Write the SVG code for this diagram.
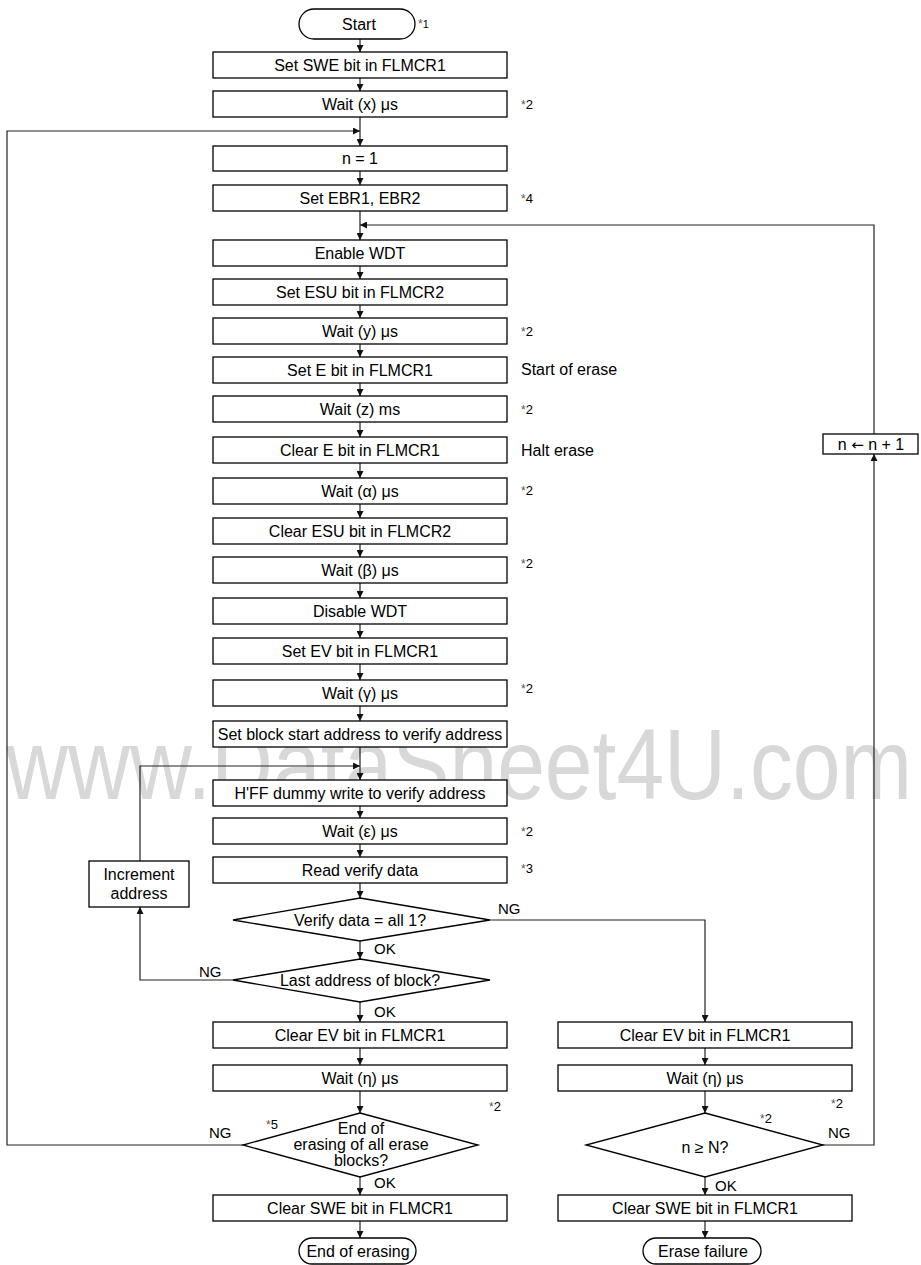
<svg xmlns="http://www.w3.org/2000/svg" width="921" height="1265" viewBox="0 0 921 1265">
<style>
.b{fill:#fff;stroke:#000;stroke-width:1.3}
.t{font-family:"Liberation Sans",Arial,sans-serif;font-size:16px;text-anchor:middle;fill:#000}
.l{font-family:"Liberation Sans",Arial,sans-serif;font-size:15px;fill:#000}
.n{font-family:"Liberation Sans",Arial,sans-serif;font-size:13px;fill:#000}
.s{font-size:12px;fill:#555}
.c{fill:none;stroke:#222;stroke-width:1.2}
.wm{font-family:"Liberation Sans",Arial,sans-serif;font-size:100px;fill:#d8d8d8}
</style>
<defs>
<marker id="ah" markerUnits="userSpaceOnUse" markerWidth="8" markerHeight="7" refX="7" refY="3.5" orient="auto">
<path d="M0,0 L7,3.5 L0,7 z" fill="#111"/>
</marker>
</defs>
<rect width="921" height="1265" fill="#fff"/>
<text class="wm" x="6" y="799" textLength="906" lengthAdjust="spacingAndGlyphs">www.DataSheet4U.com</text>

<g id="connectors">
<path class="c" marker-end="url(#ah)" d="M360,39 V52"/>
<path class="c" marker-end="url(#ah)" d="M360,78 V91"/>
<path class="c" marker-end="url(#ah)" d="M360,117 V146"/>
<path class="c" marker-end="url(#ah)" d="M360,171 V185"/>
<path class="c" marker-end="url(#ah)" d="M360,211 V240"/>
<path class="c" marker-end="url(#ah)" d="M360,266 V279"/>
<path class="c" marker-end="url(#ah)" d="M360,305 V318"/>
<path class="c" marker-end="url(#ah)" d="M360,344 V357"/>
<path class="c" marker-end="url(#ah)" d="M360,383 V396"/>
<path class="c" marker-end="url(#ah)" d="M360,422 V437"/>
<path class="c" marker-end="url(#ah)" d="M360,463 V478"/>
<path class="c" marker-end="url(#ah)" d="M360,504 V518"/>
<path class="c" marker-end="url(#ah)" d="M360,544 V557"/>
<path class="c" marker-end="url(#ah)" d="M360,583 V598"/>
<path class="c" marker-end="url(#ah)" d="M360,624 V638"/>
<path class="c" marker-end="url(#ah)" d="M360,664 V680"/>
<path class="c" marker-end="url(#ah)" d="M360,706 V721"/>
<path class="c" marker-end="url(#ah)" d="M360,747 V780"/>
<path class="c" marker-end="url(#ah)" d="M360,806 V818"/>
<path class="c" marker-end="url(#ah)" d="M360,844 V857"/>
<path class="c" marker-end="url(#ah)" d="M360,883 V898"/>
<path class="c" marker-end="url(#ah)" d="M360,941 V959"/>
<path class="c" marker-end="url(#ah)" d="M360,1002 V1022"/>
<path class="c" marker-end="url(#ah)" d="M360,1048 V1065"/>
<path class="c" marker-end="url(#ah)" d="M360,1091 V1113"/>
<path class="c" marker-end="url(#ah)" d="M360,1177 V1195"/>
<path class="c" marker-end="url(#ah)" d="M360,1221 V1238"/>
<path class="c" marker-end="url(#ah)" d="M490,920 H705 V1022"/>
<path class="c" marker-end="url(#ah)" d="M705,1048 V1065"/>
<path class="c" marker-end="url(#ah)" d="M705,1091 V1113"/>
<path class="c" marker-end="url(#ah)" d="M705,1177 V1195"/>
<path class="c" marker-end="url(#ah)" d="M705,1221 V1238"/>
<path class="c" marker-end="url(#ah)" d="M233,980 H140 V907"/>
<path class="c" marker-end="url(#ah)" d="M140,861 V766 H360"/>
<path class="c" marker-end="url(#ah)" d="M243,1145 H7 V131 H360"/>
<path class="c" marker-end="url(#ah)" d="M823,1145 H874 V454"/>
<path class="c" marker-end="url(#ah)" d="M874,434 V225 H360"/>
</g>

<g id="start"><rect class="b" x="299" y="9" width="116" height="30" rx="15"/><text class="t" x="359" y="30">Start</text></g>
<text class="n" x="418" y="28" style="font-size:11px"><tspan class="s">*</tspan>1</text>

<g id="set-swe"><rect class="b" x="213" y="52" width="294" height="26"/><text class="t" x="360" y="71">Set SWE bit in FLMCR1</text></g>
<g id="wait-x"><rect class="b" x="213" y="91" width="294" height="26"/><text class="t" x="360" y="110">Wait (x) μs</text></g>
<text class="n" x="521" y="109"><tspan class="s">*</tspan>2</text>
<g id="n-1"><rect class="b" x="213" y="146" width="294" height="25"/><text class="t" x="360" y="164">n = 1</text></g>
<g id="set-ebr"><rect class="b" x="213" y="185" width="294" height="26"/><text class="t" x="360" y="204">Set EBR1, EBR2</text></g>
<text class="n" x="521" y="203"><tspan class="s">*</tspan>4</text>
<g id="enable-wdt"><rect class="b" x="213" y="240" width="294" height="26"/><text class="t" x="360" y="259">Enable WDT</text></g>
<g id="set-esu"><rect class="b" x="213" y="279" width="294" height="26"/><text class="t" x="360" y="298">Set ESU bit in FLMCR2</text></g>
<g id="wait-y"><rect class="b" x="213" y="318" width="294" height="26"/><text class="t" x="360" y="337">Wait (y) μs</text></g>
<text class="n" x="521" y="336"><tspan class="s">*</tspan>2</text>
<g id="set-e"><rect class="b" x="213" y="357" width="294" height="26"/><text class="t" x="360" y="376">Set E bit in FLMCR1</text></g>
<text class="t" x="521" y="375" style="text-anchor:start">Start of erase</text>
<g id="wait-z"><rect class="b" x="213" y="396" width="294" height="26"/><text class="t" x="360" y="415">Wait (z) ms</text></g>
<text class="n" x="521" y="414"><tspan class="s">*</tspan>2</text>
<g id="clear-e"><rect class="b" x="213" y="437" width="294" height="26"/><text class="t" x="360" y="456">Clear E bit in FLMCR1</text></g>
<text class="t" x="521" y="456" style="text-anchor:start">Halt erase</text>
<g id="wait-alpha"><rect class="b" x="213" y="478" width="294" height="26"/><text class="t" x="360" y="497">Wait (α) μs</text></g>
<text class="n" x="521" y="495"><tspan class="s">*</tspan>2</text>
<g id="clear-esu"><rect class="b" x="213" y="518" width="294" height="26"/><text class="t" x="360" y="537">Clear ESU bit in FLMCR2</text></g>
<g id="wait-beta"><rect class="b" x="213" y="557" width="294" height="26"/><text class="t" x="360" y="576">Wait (β) μs</text></g>
<text class="n" x="521" y="568"><tspan class="s">*</tspan>2</text>
<g id="disable-wdt"><rect class="b" x="213" y="598" width="294" height="26"/><text class="t" x="360" y="617">Disable WDT</text></g>
<g id="set-ev"><rect class="b" x="213" y="638" width="294" height="26"/><text class="t" x="360" y="657">Set EV bit in FLMCR1</text></g>
<g id="wait-gamma"><rect class="b" x="213" y="680" width="294" height="26"/><text class="t" x="360" y="699">Wait (γ) μs</text></g>
<text class="n" x="521" y="693"><tspan class="s">*</tspan>2</text>
<g id="set-block"><rect class="b" x="213" y="721" width="294" height="26"/><text class="t" x="360" y="740">Set block start address to verify address</text></g>
<g id="dummy-write"><rect class="b" x="213" y="780" width="294" height="26"/><text class="t" x="360" y="799">H'FF dummy write to verify address</text></g>
<g id="wait-eps"><rect class="b" x="213" y="818" width="294" height="26"/><text class="t" x="360" y="837">Wait (ε) μs</text></g>
<text class="n" x="521" y="836"><tspan class="s">*</tspan>2</text>
<g id="read-verify"><rect class="b" x="213" y="857" width="294" height="26"/><text class="t" x="360" y="876">Read verify data</text></g>
<text class="n" x="521" y="873"><tspan class="s">*</tspan>3</text>
<g id="increment"><rect class="b" x="89" y="861" width="100" height="46"/><text class="t" x="139" y="880">Increment</text><text class="t" x="139" y="899">address</text></g>

<g id="verify-all1"><polygon class="b" points="360,898 490,920 360,941 233,920"/><text class="t" x="360" y="926">Verify data = all 1?</text></g>
<text class="l" x="498" y="914">NG</text>
<text class="l" x="374" y="954">OK</text>
<g id="last-address"><polygon class="b" points="360,959 490,980 360,1002 233,980"/><text class="t" x="360" y="986">Last address of block?</text></g>
<text class="l" x="199" y="977">NG</text>
<text class="l" x="374" y="1017">OK</text>

<g id="clear-ev-l"><rect class="b" x="213" y="1022" width="294" height="26"/><text class="t" x="360" y="1041">Clear EV bit in FLMCR1</text></g>
<g id="wait-eta-l"><rect class="b" x="213" y="1065" width="294" height="26"/><text class="t" x="360" y="1084">Wait (η) μs</text></g>
<text class="n" x="489" y="1111"><tspan class="s">*</tspan>2</text>
<g id="end-all"><polygon class="b" points="360,1113 478,1145 360,1177 243,1145"/><text class="t" x="361" y="1134">End of</text><text class="t" x="361" y="1150">erasing of all erase</text><text class="t" x="361" y="1166">blocks?</text></g>
<text class="n" x="266" y="1129"><tspan class="s">*</tspan>5</text>
<text class="l" x="209" y="1138">NG</text>
<text class="l" x="374" y="1188">OK</text>
<g id="clear-swe-l"><rect class="b" x="213" y="1195" width="294" height="26"/><text class="t" x="360" y="1214">Clear SWE bit in FLMCR1</text></g>
<g id="end-erasing"><rect class="b" x="299" y="1238" width="117" height="26" rx="13"/><text class="t" x="358" y="1257">End of erasing</text></g>

<g id="clear-ev-r"><rect class="b" x="558" y="1022" width="294" height="26"/><text class="t" x="705" y="1041">Clear EV bit in FLMCR1</text></g>
<g id="wait-eta-r"><rect class="b" x="558" y="1065" width="294" height="26"/><text class="t" x="705" y="1084">Wait (η) μs</text></g>
<text class="n" x="831" y="1108"><tspan class="s">*</tspan>2</text>
<g id="n-ge-N"><polygon class="b" points="705,1113 823,1145 705,1177 586,1145"/><text class="t" x="705" y="1153">n ≥ N?</text></g>
<text class="n" x="760" y="1123"><tspan class="s">*</tspan>2</text>
<text class="l" x="828" y="1138">NG</text>
<text class="l" x="715" y="1191">OK</text>
<g id="clear-swe-r"><rect class="b" x="558" y="1195" width="294" height="26"/><text class="t" x="705" y="1214">Clear SWE bit in FLMCR1</text></g>
<g id="erase-failure"><rect class="b" x="643" y="1238" width="118" height="26" rx="13"/><text class="t" x="703" y="1257">Erase failure</text></g>

<g id="n-inc"><rect class="b" x="823" y="434" width="95" height="20"/><text class="t" x="871" y="450">n <tspan style="font-family:'DejaVu Sans',sans-serif;font-size:15px">←</tspan> n + 1</text></g>
</svg>
